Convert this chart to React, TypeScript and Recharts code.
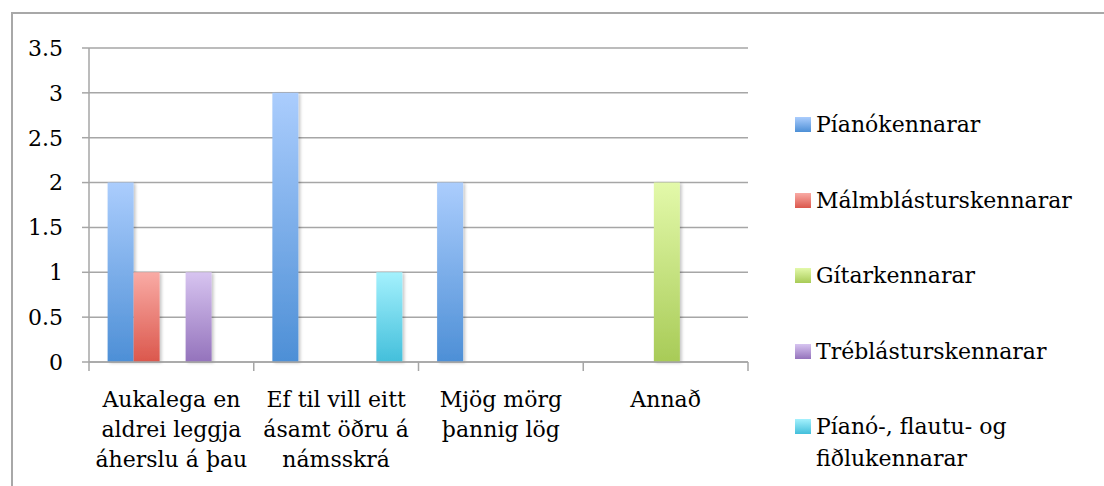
import React from "react";
import { BarChart, Bar, XAxis, YAxis, CartesianGrid, Legend } from "recharts";

const categories = [
  "Aukalega en aldrei leggja áherslu á þau",
  "Ef til vill eitt ásamt öðru á námsskrá",
  "Mjög mörg þannig lög",
  "Annað",
];
const categoryLines = [
  ["Aukalega en", "aldrei leggja", "áherslu á þau"],
  ["Ef til vill eitt", "ásamt öðru á", "námsskrá"],
  ["Mjög mörg", "þannig lög"],
  ["Annað"],
];
const seriesNames = [
  "Píanókennarar",
  "Málmblásturskennarar",
  "Gítarkennarar",
  "Tréblásturskennarar",
  "Píanó-, flautu- og fiðlukennarar",
];
const pianoValues = [2, 3, 2, 0];
const malmValues = [1, 0, 0, 0];
const gitarValues = [0, 0, 0, 2];
const treValues = [1, 0, 0, 0];
const pffValues = [0, 1, 0, 0];
const yTicks = [0, 0.5, 1, 1.5, 2, 2.5, 3, 3.5];

const gradients = [
  ["#abcdfd", "#4d8fd6"],
  ["#f9aba5", "#db574c"],
  ["#e3f9aa", "#a8cb57"],
  ["#d7c4f0", "#9473bc"],
  ["#a4f1fd", "#43bfdb"],
];

const allValues = [pianoValues, malmValues, gitarValues, treValues, pffValues];
const data = categories.map((c, i) => {
  const row: Record<string, any> = { name: c };
  seriesNames.forEach((s, k) => {
    row["s" + k] = allValues[k][i];
  });
  return row;
});

const FONT = "'DejaVu Serif', serif";
const GRID = "#a6a6a6";
const FS = 22;

const CategoryTick = (props: any) => {
  const { x, y, payload, index, visibleTicksCount } = props;
  const lines = categoryLines[index] || [];
  const half = payload && payload.offset ? payload.offset : 0;
  const isLast = index === (visibleTicksCount ? visibleTicksCount - 1 : categories.length - 1);
  return (
    <g>
      <line x1={x - half} x2={x - half} y1={y} y2={y + 9} stroke={GRID} strokeWidth={1.5} />
      {isLast && <line x1={x + half} x2={x + half} y1={y} y2={y + 9} stroke={GRID} strokeWidth={1.5} />}
      <text x={x} y={y} textAnchor="middle" fontFamily={FONT} fontSize={FS} fill="#000">
        {lines.map((l, i) => (
          <tspan key={i} x={x} dy={i === 0 ? 45 : 30}>
            {l}
          </tspan>
        ))}
      </text>
    </g>
  );
};

const LegendContent = () => (
  <div style={{ fontFamily: FONT, fontSize: FS, color: "#000", width: 300 }}>
    {seriesNames.map((n, k) => (
      <div
        key={n}
        style={{ display: "flex", alignItems: "flex-start", marginBottom: 43.5, lineHeight: "32px" }}
      >
        <div
          style={{
            width: 16,
            height: 15,
            marginTop: 8,
            marginRight: 5,
            flex: "none",
            background: `linear-gradient(${gradients[k][0]}, ${gradients[k][1]})`,
          }}
        />
        <div style={{ width: 270 }}>{n}</div>
      </div>
    ))}
  </div>
);

export default function App() {
  return (
    <div style={{ position: "absolute", left: 0, top: 0, width: 1104, height: 486, overflow: "hidden", background: "#fff" }}>
      <div
        style={{
          position: "absolute",
          left: 11,
          top: 12,
          width: 1200,
          height: 600,
          border: "2px solid #a8a8a8",
        }}
      />
      <div style={{ position: "absolute", left: 0, top: 0 }}>
        <BarChart
          width={1104}
          height={486}
          data={data}
          margin={{ top: 48, right: 356, bottom: 0, left: 0 }}
          barGap={0}
          barCategoryGap="11.3%"
        >
          <defs>
            {gradients.map((g, k) => (
              <linearGradient key={k} id={"grad" + k} x1="0" y1="0" x2="0" y2="1">
                <stop offset="0%" stopColor={g[0]} />
                <stop offset="100%" stopColor={g[1]} />
              </linearGradient>
            ))}
            <filter id="shadow" x="-20%" y="-10%" width="150%" height="130%">
              <feDropShadow dx="2" dy="1" stdDeviation="1.5" floodColor="#000" floodOpacity="0.22" />
            </filter>
          </defs>
          <CartesianGrid vertical={false} stroke={GRID} strokeWidth={1.5} />
          <XAxis
            dataKey="name"
            height={124}
            axisLine={{ stroke: GRID, strokeWidth: 1.5 }}
            tickLine={false}
            tickSize={0}
            tickMargin={0}
            interval={0}
            tick={<CategoryTick />}
          />
          <YAxis
            width={89}
            domain={[0, 3.5]}
            ticks={yTicks}
            interval={0}
            tickSize={7}
            tickMargin={19}
            stroke={GRID}
            strokeWidth={1.5}
            tick={{ fontFamily: FONT, fontSize: FS, fill: "#000" }}
          />
          <Legend
            layout="vertical"
            align="center"
            verticalAlign="middle"
            content={<LegendContent />}
            wrapperStyle={{ left: 795, top: 109, width: 300 }}
          />
          {seriesNames.map((n, k) => (
            <Bar
              key={n}
              dataKey={"s" + k}
              name={n}
              fill={`url(#grad${k})`}
              filter="url(#shadow)"
              isAnimationActive={false}
            />
          ))}
        </BarChart>
      </div>
    </div>
  );
}
